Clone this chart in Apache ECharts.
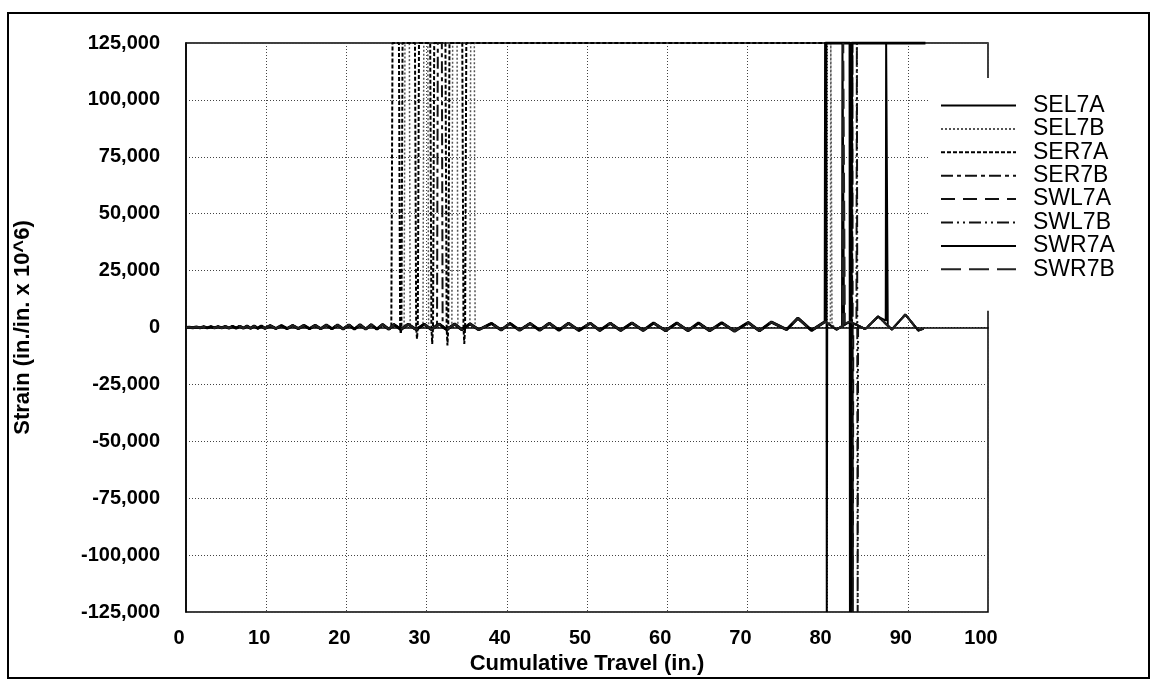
<!DOCTYPE html>
<html>
<head>
<meta charset="utf-8">
<script src="https://cdn.jsdelivr.net/npm/echarts@6/dist/echarts.min.js"></script>
<style>
html,body{margin:0;padding:0;background:#fff;}
#chart{width:1155px;height:681px;}
</style>
</head>
<body>
<div id="chart"></div>
<script>
// ---------- DATA ----------
const seriesNames = ['SEL7A','SEL7B','SER7A','SER7B','SWL7A','SWL7B','SWR7A','SWR7B'];
const xTicks = [0,10,20,30,40,50,60,70,80,90,100];
const yTicks = [-125000,-100000,-75000,-50000,-25000,0,25000,50000,75000,100000,125000];

// common oscillating strain trace shared by all gauges: [travel, strain]
const baseWave = [
 [0,0],[0.4,150],[0.85,-100],[1.3,250],[1.75,-150],[2.2,300],[2.65,-150],[3.1,350],[3.55,-200],[4.0,400],
 [4.45,-200],[4.9,450],[5.35,-250],[5.8,500],[6.25,-300],[6.7,550],[7.15,-300],[7.6,600],[8.05,-350],[8.5,650],
 [8.95,-350],[9.4,700],[9.85,-400],[10.5,800],[11.2,-450],[11.9,850],[12.6,-500],[13.3,900],[14.0,-500],[14.7,950],
 [15.4,-550],[16.1,1000],[16.8,-600],[17.5,1050],[18.2,-600],[18.9,1100],[19.6,-650],[20.3,1150],[21.0,-700],[21.7,1200],
 [22.4,-700],[23.1,1250],[23.8,-750],[24.5,1300],[25.3,-800],[25.9,1350],[26.8,-850],[27.7,1400],[28.7,-900],[29.7,1450],
 [30.6,-900],[31.6,1500],[32.5,-950],[33.5,1550],[34.4,-1000],[35.4,1600],[36.5,-1000],[38.1,1800],[39.3,-1100],[40.4,1800],
 [41.6,-1200],[42.9,1800],[44.1,-1200],[45.3,1900],[46.5,-1200],[47.7,1900],[49.0,-1300],[50.4,1900],[51.6,-1300],[52.9,1900],
 [54.2,-1300],[55.6,2000],[57.0,-1300],[58.3,2000],[59.8,-1400],[61.2,2000],[62.6,-1400],[63.9,2000],[65.3,-1400],[66.8,2100],
 [68.4,-1600],[70.1,2200],[71.5,-1500],[73.0,2400],[74.9,-900],[76.3,4100],[78.0,-1300],[79.7,2600],[81.1,-900],[82.8,2600],
 [84.7,-700],[86.3,4800],[88.0,-900],[89.7,5700],[91.3,-1300],[92.0,-500]
];

// excursions of each gauge (groups of [travel, strain]); 125,000 = off scale
const spikesSEL7A = [
 [[79.8,2500],[79.85,125000],[79.9,-125000],[79.95,2000]],
 [[81.8,500],[81.85,125000],[82.0,125000],[82.05,1500]],
 [[87.25,3000],[87.3,125000],[87.45,125000],[87.5,1000]]
];
const spikesSEL7B = [
 [[27.2,600],[27.3,125000],[27.85,125000],[27.95,0]],
 [[29.55,1200],[29.65,125000],[30.15,125000],[30.25,0]],
 [[33.15,900],[33.25,125000],[33.8,125000],[33.9,0]],
 [[35.4,1500],[35.5,125000],[35.95,125000],[36.05,500]],
 [[80.35,2000],[80.4,125000],[80.5,125000],[80.55,1500]]
];
const spikesSER7A = [
 [[25.6,0],[25.75,125000],[26.55,125000],[26.7,0],[26.78,-2800],[26.86,0],[27.0,125000],
  [28.55,125000],[28.7,0],[28.8,-5000],[28.9,0],[29.05,125000],
  [30.45,125000],[30.6,0],[30.7,-7200],[30.8,0],[30.95,125000],
  [32.35,125000],[32.5,0],[32.6,-7900],[32.7,0],[32.85,125000],
  [34.45,125000],[34.6,0],[34.7,-7200],[34.8,0],[34.95,125000],[92.2,125000]]
];
const spikesSER7B = [
 [[31.3,1300],[31.4,125000],[31.9,125000],[32.0,0]]
];
const spikesSWL7A = [
 [[83.05,2000],[83.1,125000],[83.15,-125000],[83.2,1800]]
];
const spikesSWL7B = [
 [[83.6,1500],[83.65,125000],[83.75,-125000],[83.8,500]]
];
const spikesSWR7A = [
 [[79.7,2600],[79.75,125000],[82.8,125000],[82.85,-125000],[82.95,-125000],[83.0,125000],[92.2,125000]]
];
const spikesSWR7B = [
 [[81.9,800],[81.95,125000],[82.1,125000],[82.15,1800]]
];

// ---------- BUILD ----------
function merge(base, groups){
  const wins = groups.map(g => [g[0][0], g[g.length-1][0]]);
  const pts = base.filter(p => !wins.some(w => p[0] >= w[0] && p[0] <= w[1]));
  groups.forEach(g => g.forEach(p => pts.push(p)));
  pts.sort((a,b) => a[0]-b[0]);
  return pts;
}
const spikeSets = [spikesSEL7A,spikesSEL7B,spikesSER7A,spikesSER7B,spikesSWL7A,spikesSWL7B,spikesSWR7A,spikesSWR7B];
const styles = [
  {color:'#000', width:2, type:'solid'},
  {color:'#555', width:1.5, type:[2,2]},
  {color:'#000', width:2, type:[4,2]},
  {color:'#111', width:2, type:[12,4,4,4]},
  {color:'#111', width:2, type:[14,8]},
  {color:'#111', width:2, type:[12,4,2,4,2,4]},
  {color:'#000', width:3, type:'solid'},
  {color:'#222', width:2, type:[20,8]}
];
const series = seriesNames.map((n,i) => ({
  name:n, type:'line', data: merge(baseWave, spikeSets[i]),
  symbol:'none', showSymbol:false, animation:false, clip:true,
  lineStyle: styles[i], itemStyle:{color: styles[i].color}
}));

const fontFam = '"Liberation Sans", Arial, Helvetica, sans-serif';
function fmt(v){ const s = String(Math.abs(v)).replace(/\B(?=(\d{3})+(?!\d))/g, ','); return (v<0?'-':'') + s; }

const chart = echarts.init(document.getElementById('chart'), null, {renderer:'canvas'});
chart.setOption({
  backgroundColor:'#fff',
  animation:false,
  textStyle:{fontFamily:fontFam},
  grid:{left:186, top:43, width:802, height:569, show:true, borderColor:'#000', borderWidth:1.5, backgroundColor:'transparent'},
  xAxis:{
    type:'value', min:xTicks[0], max:xTicks[xTicks.length-1], interval:10,
    name:'Cumulative Travel (in.)', nameLocation:'middle', nameGap:37,
    nameTextStyle:{fontFamily:fontFam, fontSize:22, fontWeight:'bold', color:'#000'},
    axisLine:{show:true, lineStyle:{color:'#000', width:1.5}},
    axisTick:{show:false},
    axisLabel:{fontFamily:fontFam, fontSize:20, fontWeight:'bold', color:'#000', margin:16, padding:[0,14,0,0]},
    splitLine:{show:true, lineStyle:{color:'#444', type:[1,2], width:1}}
  },
  yAxis:{
    type:'value', min:yTicks[0], max:yTicks[yTicks.length-1], interval:25000,
    name:'Strain (in./in. x 10^6)', nameLocation:'middle', nameGap:152, nameRotate:90,
    nameTextStyle:{fontFamily:fontFam, fontSize:22, fontWeight:'bold', color:'#000'},
    axisLine:{show:true, lineStyle:{color:'#000', width:1.5}},
    axisTick:{show:false},
    axisLabel:{fontFamily:fontFam, fontSize:20, fontWeight:'bold', color:'#000', margin:26, formatter:fmt},
    splitLine:{show:true, lineStyle:{color:'#444', type:[1,2], width:1}}
  },
  legend:{
    data:seriesNames, orient:'vertical', left:930, top:78,
    padding:[16,20,30,10], backgroundColor:'#fff',
    itemWidth:75, itemHeight:14, itemGap:0.4,
    itemStyle:{opacity:0, color:'transparent', borderWidth:0},
    textStyle:{fontFamily:fontFam, fontSize:23, color:'#000', lineHeight:23, padding:[0,0,0,12]}
  },
  graphic:[{type:'rect', shape:{x:8, y:13, width:1141, height:665}, style:{fill:'none', stroke:'#000', lineWidth:2}, z:100, silent:true}],
  series: series
});
</script>
</body>
</html>
